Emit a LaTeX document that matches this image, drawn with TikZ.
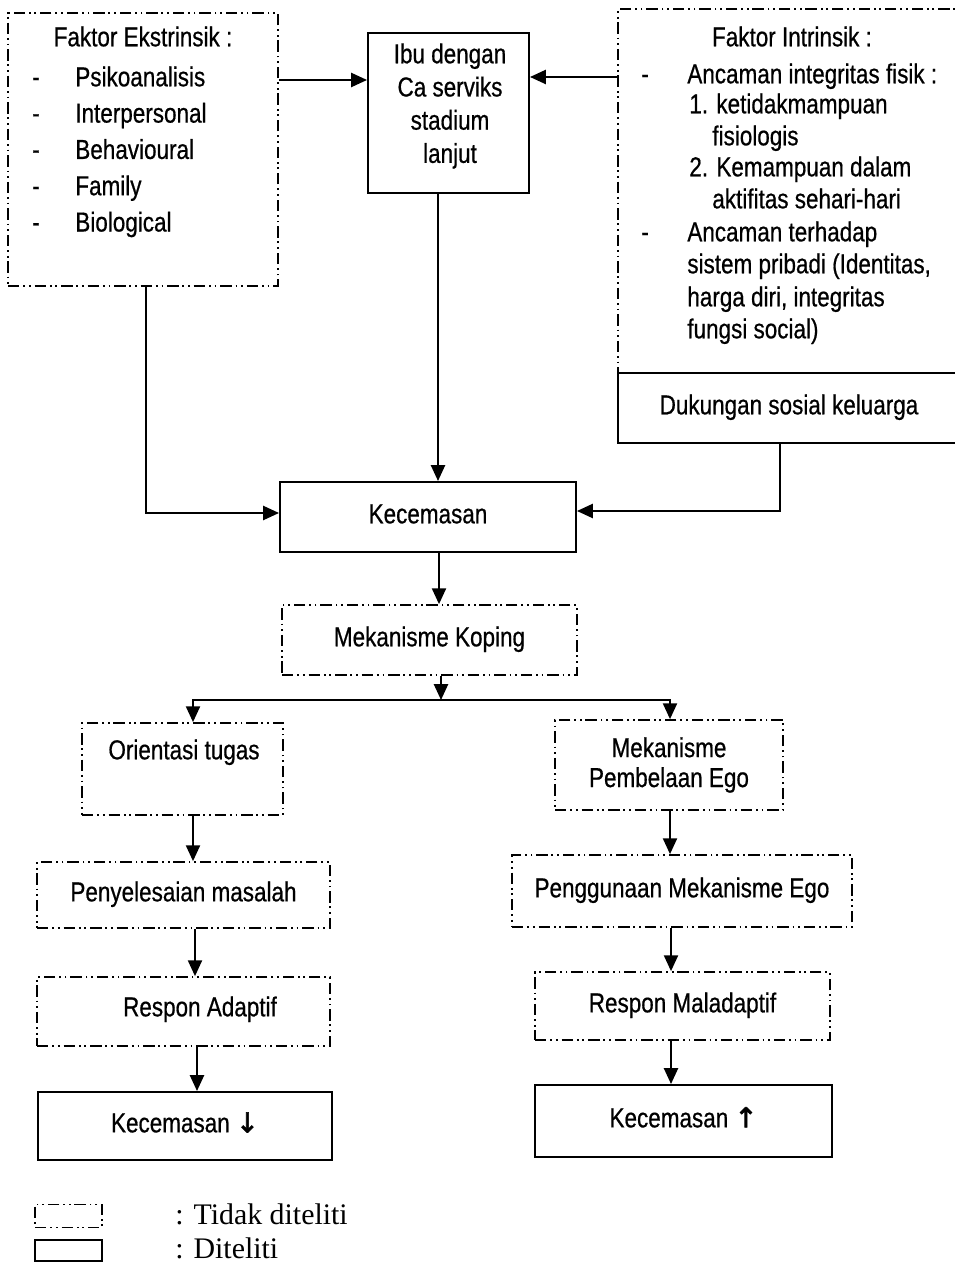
\documentclass[tikz,border=0pt]{standalone}
\usepackage{fontspec}
\setmainfont{Liberation Sans}[FakeStretch=0.82, FakeBold=0.6]
\newfontfamily\legfont{Liberation Serif}
\newfontfamily\arrfont{DejaVu Sans}[FakeBold=2.5]
\usetikzlibrary{arrows.meta,positioning,calc}
\tikzstyle{sbox}=[draw, line width=1.15pt, inner sep=0pt, text height=0.72em, text depth=0pt]
\tikzstyle{dbox}=[draw, line width=1pt, inner sep=0pt, text height=0.72em, text depth=0pt,
  dash pattern=on 6.5pt off 2.2pt on 1pt off 2.2pt on 1pt off 2.2pt]
\tikzstyle{item}=[anchor=west, inner sep=0pt, text height=0.72em, text depth=0pt]
\tikzstyle{arr}=[-{Triangle[length=9pt,width=8pt]}, line width=1.1pt]

\begin{document}
\begin{tikzpicture}[x=0.02cm, y=-0.02cm, font={\fontsize{15.6}{18.7}\selectfont}]
  \useasboundingbox (0,0) rectangle (954,1266);
  %
  % top row
  \node[dbox, minimum width=5.4cm, minimum height=5.46cm] (ekst) at (143,149.5) {};
  \node[item, anchor=center] (ekst-t) at (143,40) {Faktor Ekstrinsik :};
  \foreach \t [count=\i] in {Psikoanalisis,Interpersonal,Behavioural,Family,Biological} {
    \node[item, anchor=center] (ekd\i) at (36,80+36.3*\i-36.3) {-};
    \node[item] (ek\i) at (75,80+36.3*\i-36.3) {\t};
  }
  \node[sbox, minimum width=3.22cm, minimum height=3.2cm] (ibu) at (448.5,113) {};
  \node[align=center, inner sep=0pt, font={\fontsize{15.6}{18.9}\selectfont}] (ibu-t) at (450,106)
    {Ibu dengan\\Ca serviks\\stadium\\lanjut};
  \node[dbox, minimum width=6.84cm, minimum height=7.28cm] (intr) at (789,191) {};
  \node[sbox, minimum width=6.84cm, minimum height=1.4cm] (duk) at (789,408) {Dukungan sosial keluarga};
  \node[item, anchor=center] (intr-t) at (792,40) {Faktor Intrinsik :};
  \node[item, anchor=center] (ind1) at (645,77) {-};
  \node[item, anchor=center] (ind2) at (645,235) {-};
  \foreach \x/\y/\t [count=\i] in {687/77/{Ancaman integritas fisik :}, 689/107/{1. ketidakmampuan},
      712/139/fisiologis, 689/170/{2. Kemampuan dalam}, 712/202/{aktifitas sehari-hari},
      687/235/{Ancaman terhadap}, 687/267/{sistem pribadi (Identitas,},
      687/300/{harga diri, integritas}, 687/332/{fungsi social)}}
    \node[item] (in\i) at (\x,\y) {\t};
  %
  % middle
  \node[sbox, minimum width=5.92cm, minimum height=1.4cm] (kec) at (428,517) {Kecemasan};
  \node[dbox, minimum width=5.9cm, minimum height=1.4cm] (kop) at (429.5,640) {Mekanisme Koping};
  %
  % left branch
  \node[dbox, minimum width=4.02cm, minimum height=1.84cm] (ori) at (182.5,769) {};
  \node[item, anchor=center] (ori-t) at (184,753) {Orientasi tugas};
  \node[dbox, minimum width=5.86cm, minimum height=1.32cm] (pen) at (183.5,895) {Penyelesaian masalah};
  \node[dbox, minimum width=5.86cm, minimum height=1.38cm] (ada) at (183.5,1011.5) {};
  \node[item, anchor=center] (ada-t) at (200,1010) {Respon Adaptif};
  \node[sbox, minimum width=5.88cm, minimum height=1.36cm] (kturun) at (185,1126)
    {Kecemasan {\arrfont ↓}};
  %
  % right branch
  \node[dbox, minimum width=4.56cm, minimum height=1.8cm, align=center, text height=, text depth=,
    font={\fontsize{15.6}{17}\selectfont}] (pem) at (669,765) {Mekanisme\\Pembelaan Ego};
  \node[dbox, minimum width=6.8cm, minimum height=1.44cm] (ggn) at (682,891) {Penggunaan Mekanisme Ego};
  \node[dbox, minimum width=5.9cm, minimum height=1.36cm] (mal) at (682.5,1006) {Respon Maladaptif};
  \node[sbox, minimum width=5.94cm, minimum height=1.44cm] (knaik) at (683.5,1121)
    {Kecemasan {\arrfont ↑}};
  %
  % legend
  \node[dbox, minimum width=1.34cm, minimum height=0.46cm] (leg1) at (68.5,1216) {};
  \node[sbox, minimum width=1.34cm, minimum height=0.42cm] (leg2) at (68.5,1250) {};
  \node[item, font={\legfont\fontsize{17}{20}\selectfont}] (leg1-t) at (175,1218) {: Tidak diteliti};
  \node[item, font={\legfont\fontsize{17}{20}\selectfont}] (leg2-t) at (175,1252) {: Diteliti};
  %
  % connectors
  \coordinate (c1) at (0,80);
  \coordinate (c2) at (0,77);
  \coordinate (c3) at (438,0);
  \coordinate (c4) at (439,0);
  \coordinate (c5) at (146,513);
  \coordinate (c6) at (780,511);
  \coordinate (bus) at (441,700);
  \coordinate (busL) at (193,700);
  \coordinate (busR) at (670,700);
  \coordinate (l2) at (195,0);
  \coordinate (l3) at (197,0);
  \coordinate (r2) at (671,0);
  \draw[arr] (ekst.east |- c1) -- (ibu.west |- c1);
  \draw[arr] (intr.west |- c2) -- (ibu.east |- c2);
  \draw[arr] (ibu.south -| c3) -- (kec.north -| c3);
  \draw[arr] (ekst.south -| c5) -- (c5) -- (kec.west |- c5);
  \draw[arr] (duk.south -| c6) -- (c6) -- (kec.east |- c6);
  \draw[arr] (kec.south -| c4) -- (kop.north -| c4);
  \draw[arr] (kop.south -| bus) -- (bus);
  \draw[arr] (busR) -- (busL) -- (ori.north -| busL);
  \draw[arr] (busL) -- (busR) -- (pem.north -| busR);
  \draw[arr] (ori.south -| busL) -- (pen.north -| busL);
  \draw[arr] (pen.south -| l2) -- (ada.north -| l2);
  \draw[arr] (ada.south -| l3) -- (kturun.north -| l3);
  \draw[arr] (pem.south -| busR) -- (ggn.north -| busR);
  \draw[arr] (ggn.south -| r2) -- (mal.north -| r2);
  \draw[arr] (mal.south -| r2) -- (knaik.north -| r2);
\end{tikzpicture}
\end{document}
